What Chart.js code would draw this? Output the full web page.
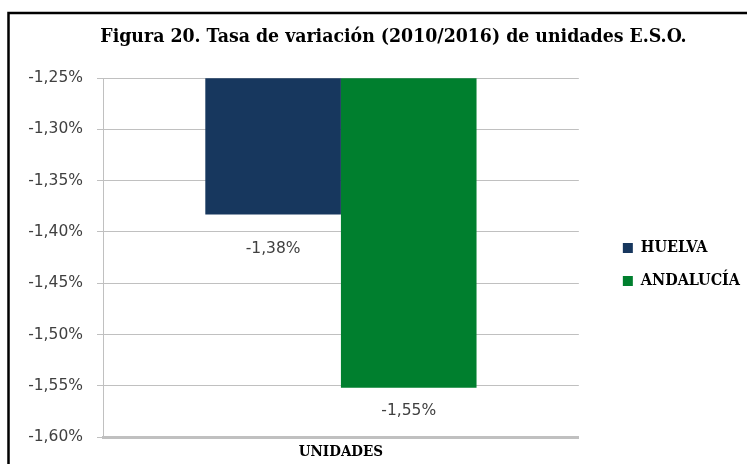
<!DOCTYPE html>
<html>
<head>
<meta charset="utf-8">
<script src="https://cdn.jsdelivr.net/npm/chart.js@4"></script>
<style>
  html, body { margin: 0; padding: 0; background: #fff; }
  #wrap { width: 747px; height: 464px; }
</style>
</head>
<body>
<div id="wrap"><canvas id="c" width="747" height="464"></canvas></div>
<script>
const categories = ['UNIDADES'];
const huelva = [-1.383];
const andalucia = [-1.552];
const seriesNames = ['HUELVA', 'ANDALUCÍA'];
const titleText = 'Figura 20. Tasa de variación (2010/2016) de unidades E.S.O.';

const fmt = v => v.toFixed(2).replace('.', ',') + '%';
const SERIF = '"DejaVu Serif Condensed", "DejaVu Serif", serif';
const SANS = '"DejaVu Sans", sans-serif';

const frame = {
  id: 'frame',
  beforeDraw(chart) {
    const ctx = chart.ctx;
    ctx.save();
    ctx.fillStyle = '#fff';
    ctx.fillRect(0, 0, chart.width, chart.height);
    ctx.strokeStyle = '#000';
    ctx.lineWidth = 2.5;
    ctx.beginPath();
    ctx.moveTo(8.5, chart.height);
    ctx.lineTo(8.5, 13);
    ctx.lineTo(chart.width, 13);
    ctx.stroke();
    ctx.restore();
  }
};

const boxShift = {
  id: 'boxShift',
  afterLayout(chart) {
    const lg = chart.legend, ca = chart.chartArea;
    const w = lg.right - lg.left;
    lg.left = ca.right + 27; lg.right = lg.left + w;
    lg.top = ca.top + 7; lg.bottom = ca.bottom + 7;
    lg.height = lg.bottom - lg.top;
    const tb = chart.titleBlock;
    tb.left = 40; tb.right = chart.width; tb.width = tb.right - tb.left;
  }
};

const labels = {
  id: 'valLabels',
  afterDatasetsDraw(chart) {
    const ctx = chart.ctx;
    ctx.save();
    ctx.font = '15.5px ' + SANS;
    ctx.fillStyle = '#404040';
    ctx.textAlign = 'center';
    ctx.textBaseline = 'middle';
    const offs = [34, 23];
    chart.data.datasets.forEach((ds, i) => {
      const meta = chart.getDatasetMeta(i);
      meta.data.forEach((el, j) => {
        ctx.fillText(fmt(ds.data[j]), el.x, el.y + offs[i]);
      });
    });
    ctx.restore();
  }
};

new Chart(document.getElementById('c'), {
  type: 'bar',
  data: {
    labels: categories,
    datasets: [
      { label: seriesNames[0], data: huelva, backgroundColor: '#17375e', borderWidth: 0 },
      { label: seriesNames[1], data: andalucia, backgroundColor: '#007f2e', borderWidth: 0 }
    ]
  },
  options: {
    responsive: false,
    animation: false,
    devicePixelRatio: 1,
    layout: { padding: { left: 0, right: 24, top: 0, bottom: 0 } },
    datasets: { bar: { barPercentage: 1, categoryPercentage: 0.57 } },
    plugins: {
      title: {
        display: true,
        text: titleText,
        color: '#000',
        font: { family: SERIF, size: 19.3, weight: 'bold' },
        padding: { top: 25, bottom: 30 }
      },
      legend: {
        display: true,
        position: 'right',
        align: 'center',
        labels: {
          boxWidth: 10,
          boxHeight: 10,
          padding: 17,
          color: '#000',
          font: { family: SERIF, size: 16, weight: 'bold' }
        }
      },
      tooltip: { enabled: false }
    },
    scales: {
      x: {
        afterFit(scale) { scale.height = 27; },
        grid: { display: false, drawTicks: false },
        border: { display: true, color: '#c0c0c0', width: 3 },
        ticks: {
          padding: 6,
          color: '#000',
          font: { family: SERIF, size: 15, weight: 'bold' }
        }
      },
      y: {
        min: -1.6,
        max: -1.25,
        afterFit(scale) { scale.width = 103; },
        grid: { color: '#c0c0c0', lineWidth: 1, tickLength: 6, drawTicks: true },
        border: { display: true, color: '#c0c0c0', width: 1 },
        ticks: {
          stepSize: 0.05,
          padding: 14,
          color: '#404040',
          font: { family: SANS, size: 15.5 },
          callback: v => fmt(v)
        }
      }
    }
  },
  plugins: [frame, boxShift, labels]
});
</script>
</body>
</html>
